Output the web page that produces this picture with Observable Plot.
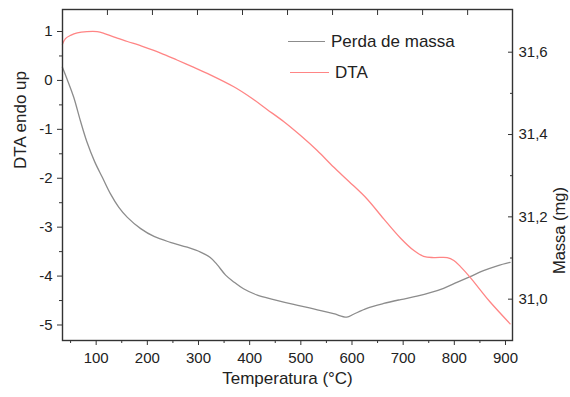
<!DOCTYPE html>
<html><head><meta charset="utf-8">
<script src="https://cdn.jsdelivr.net/npm/d3@7"></script>
<script src="https://cdn.jsdelivr.net/npm/@observablehq/plot@0.6"></script>
<style>
body{margin:0;background:#fff;font-family:"Liberation Sans",Arial,sans-serif;}
#wrap{position:relative;width:570px;height:397px;}
.leg{position:absolute;display:flex;align-items:center;font-size:17px;color:#222;line-height:1;white-space:nowrap;}
.leg .sw{display:inline-block;height:0;margin-right:6px;}
</style></head><body><div id="wrap"></div>
<script>
// Gray series ("Perda de massa"), read on the left axis (DTA endo up)
const grayTemp  = [34, 43, 56, 69, 82, 97, 112, 128, 144, 161, 187, 213, 245, 278, 304, 323, 336, 353, 369, 388, 415, 447, 486, 525, 564, 590, 603, 629, 662, 695, 727, 753, 779, 805, 831, 857, 884, 909];
const grayValue = [0.27, 0.03, -0.34, -0.82, -1.26, -1.66, -1.98, -2.32, -2.59, -2.80, -3.03, -3.19, -3.31, -3.41, -3.51, -3.62, -3.76, -3.98, -4.12, -4.26, -4.39, -4.48, -4.58, -4.67, -4.77, -4.84, -4.78, -4.66, -4.56, -4.48, -4.41, -4.34, -4.25, -4.13, -4.01, -3.89, -3.79, -3.72];
// Red series ("DTA"), read on the right axis (Massa, mg)
const redTemp = [34, 40, 50, 63, 82, 102, 115, 134, 161, 193, 226, 258, 291, 323, 369, 402, 434, 467, 499, 532, 564, 594, 629, 662, 695, 721, 740, 760, 786, 799, 812, 831, 851, 870, 909];
const redMass = [31.619, 31.633, 31.641, 31.647, 31.650, 31.650, 31.646, 31.637, 31.626, 31.613, 31.598, 31.581, 31.563, 31.545, 31.516, 31.490, 31.461, 31.431, 31.398, 31.361, 31.321, 31.286, 31.244, 31.195, 31.148, 31.118, 31.104, 31.101, 31.101, 31.094, 31.079, 31.053, 31.022, 30.993, 30.940];

const seriesNames = ["Perda de massa", "DTA"];
const seriesColors = ["#8c8c8c", "#ff8585"];
const xLabel = "Temperatura (°C)";
const yLeftLabel = "DTA endo up";
const yRightLabel = "Massa (mg)";

const xTicks = [100, 200, 300, 400, 500, 600, 700, 800, 900];
const xMinor = [50, 150, 250, 350, 450, 550, 650, 750, 850];
const topTicks = [122, 210, 298, 386, 474, 562, 650, 738, 826];
const leftTicks = [-5, -4, -3, -2, -1, 0, 1];
const leftMinor = [-4.5, -3.5, -2.5, -1.5, -0.5, 0.5];
const massTicks = [31.0, 31.2, 31.4, 31.6];
const massMinor = [31.1, 31.3, 31.5];

// alignment of the right (mass) axis against the left axis
const massAlign = {m0: 31.6, v0: 0.577, m1: 31.0, v1: -4.472};
const toLeft = m => massAlign.v0 + (m - massAlign.m0) * (massAlign.v1 - massAlign.v0) / (massAlign.m1 - massAlign.m0);
const fromLeft = v => massAlign.m0 + (v - massAlign.v0) * (massAlign.m1 - massAlign.m0) / (massAlign.v1 - massAlign.v0);

const grayData = grayTemp.map((t, i) => ({t, v: grayValue[i]}));
const redData = redTemp.map((t, i) => ({t, v: toLeft(redMass[i])}));

const blank = () => "";
const plot = Plot.plot({
  width: 570, height: 397,
  marginLeft: 62, marginRight: 58, marginTop: 9, marginBottom: 57,
  style: {fontFamily: '"Liberation Sans", Arial, sans-serif', fontSize: "15px", color: "#333", background: "#fff"},
  x: {domain: [34.2, 913.7]},
  y: {domain: [-5.317, 1.45]},
  marks: [
    Plot.line(grayData, {x: "t", y: "v", stroke: seriesColors[0], strokeWidth: 1.3, curve: "catmull-rom"}),
    Plot.line(redData, {x: "t", y: "v", stroke: seriesColors[1], strokeWidth: 1.3, curve: "catmull-rom"}),
    Plot.frame({stroke: "#333", strokeWidth: 1.4}),
    Plot.axisY(leftTicks, {anchor: "left", tickSize: 5, tickPadding: 5, label: null, fontSize: 15, fill: "#222", tickFormat: d => String(d)}),
    Plot.axisY(leftMinor, {anchor: "left", tickSize: 3, tickFormat: blank, label: null}),
    Plot.axisX(xTicks, {anchor: "bottom", tickSize: 5, tickPadding: 7, label: null, fontSize: 15, fill: "#222", tickFormat: d => String(d)}),
    Plot.axisX(xMinor, {anchor: "bottom", tickSize: 3, tickFormat: blank, label: null}),
    Plot.axisX(topTicks, {anchor: "top", tickSize: 5, dy: 5, tickFormat: blank, label: null}),
    Plot.axisY(massTicks.map(toLeft), {anchor: "right", tickSize: 5, dx: -5, tickFormat: blank, label: null}),
    Plot.axisY(massMinor.map(toLeft), {anchor: "right", tickSize: 3, dx: -3, tickFormat: blank, label: null}),
    Plot.axisY(massTicks.map(toLeft), {anchor: "right", tickSize: 0, tickPadding: 6, label: null, fontSize: 15, fill: "#222",
      tickFormat: d => d3.format(".1f")(fromLeft(d)).replace(".", ",")}),
    Plot.text([yLeftLabel], {frameAnchor: "left", dx: -42, dy: -6, rotate: -90, fontSize: 17, fill: "#222"}),
    Plot.text([yRightLabel], {frameAnchor: "right", dx: 47, dy: 12, rotate: -90, fontSize: 16.5, fill: "#222"}),
    Plot.text([xLabel], {frameAnchor: "bottom", dy: 43, fontSize: 17, fill: "#222"})
  ]
});
const wrap = document.getElementById("wrap");
wrap.appendChild(plot);

// legend (inside the plot area, top right)
const legPos = [{left: 288, top: 41, sw: 37}, {left: 290, top: 72, sw: 39}];
seriesNames.forEach((name, i) => {
  const d = document.createElement("div");
  d.className = "leg";
  d.style.left = legPos[i].left + "px";
  d.style.top = (legPos[i].top - 9) + "px";
  d.style.height = "18px";
  const sw = document.createElement("span");
  sw.className = "sw";
  sw.style.width = legPos[i].sw + "px";
  sw.style.borderTop = "1.3px solid " + seriesColors[i];
  const tx = document.createElement("span");
  tx.textContent = name;
  d.appendChild(sw); d.appendChild(tx);
  wrap.appendChild(d);
});
</script>
</body></html>
